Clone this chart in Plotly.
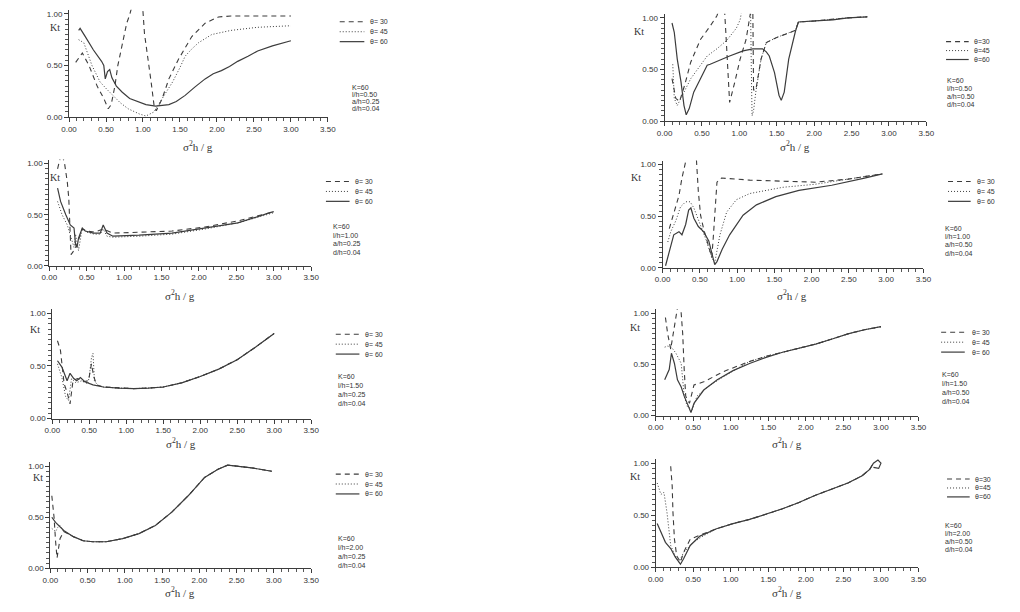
import plotly.graph_objects as go

W, H = 1020, 612

# ---------------- data ----------------
# Panel 1: l/h=0.50, a/h=0.25
p1_x30 = [0.09, 0.18, 0.27, 0.38, 0.47, 0.53, 0.57, 0.62, 0.66, 0.72, 0.78, 0.82, 0.86, 0.98, 1.00, 1.02, 1.06, 1.11, 1.15, 1.18, 1.26, 1.35, 1.48, 1.66, 1.84, 2.02, 2.19, 2.60, 3.00]
p1_y30 = [0.53, 0.62, 0.50, 0.30, 0.18, 0.08, 0.12, 0.30, 0.50, 0.72, 0.91, 0.99, 1.10, 1.10, 1.02, 0.81, 0.62, 0.34, 0.11, 0.06, 0.18, 0.37, 0.56, 0.78, 0.91, 0.97, 0.98, 0.98, 0.98]
p1_x45 = [0.13, 0.20, 0.31, 0.42, 0.51, 0.60, 0.69, 0.80, 0.95, 1.04, 1.15, 1.26, 1.40, 1.50, 1.57, 1.66, 1.75, 1.93, 2.19, 2.55, 3.00]
p1_y45 = [0.75, 0.72, 0.50, 0.34, 0.27, 0.20, 0.14, 0.08, 0.03, 0.01, 0.05, 0.18, 0.34, 0.48, 0.59, 0.66, 0.72, 0.80, 0.84, 0.87, 0.885]
p1_x60 = [0.13, 0.15, 0.22, 0.33, 0.44, 0.47, 0.49, 0.52, 0.55, 0.58, 0.64, 0.72, 0.82, 0.93, 1.04, 1.17, 1.25, 1.35, 1.45, 1.57, 1.70, 1.84, 1.95, 2.06, 2.17, 2.28, 2.42, 2.55, 2.75, 2.95, 3.00]
p1_y60 = [0.84, 0.86, 0.78, 0.65, 0.54, 0.50, 0.37, 0.44, 0.46, 0.38, 0.30, 0.24, 0.18, 0.15, 0.12, 0.105, 0.11, 0.12, 0.15, 0.21, 0.29, 0.37, 0.42, 0.45, 0.49, 0.54, 0.59, 0.64, 0.69, 0.73, 0.74]

# Panel 2: l/h=0.50, a/h=0.50
p2_x30 = [0.10, 0.15, 0.20, 0.27, 0.35, 0.48, 0.61, 0.70, 0.74, 0.80, 0.82, 0.85, 0.87, 0.94, 1.01, 1.09, 1.14, 1.16, 1.18, 1.19, 1.22, 1.29, 1.36, 1.50, 1.65, 1.75, 1.79, 2.01, 2.45, 2.71]
p2_y30 = [0.41, 0.22, 0.19, 0.35, 0.57, 0.79, 0.92, 1.02, 1.10, 1.10, 0.85, 0.40, 0.18, 0.38, 0.60, 0.79, 0.98, 1.10, 1.10, 0.30, 0.30, 0.60, 0.76, 0.81, 0.85, 0.88, 0.96, 0.97, 1.00, 1.01]
p2_x45 = [0.11, 0.13, 0.17, 0.26, 0.35, 0.44, 0.57, 0.70, 0.83, 0.96, 1.01, 1.04, 1.15, 1.16, 1.17, 1.19, 1.22, 1.29, 1.36, 1.50, 1.65, 1.75, 1.79, 2.01, 2.45, 2.71]
p2_y45 = [0.55, 0.22, 0.15, 0.28, 0.41, 0.50, 0.63, 0.70, 0.78, 0.90, 0.98, 1.10, 1.10, 0.50, 0.05, 0.10, 0.28, 0.60, 0.76, 0.81, 0.85, 0.88, 0.96, 0.97, 1.00, 1.01]
p2_x60 = [0.10, 0.13, 0.17, 0.22, 0.26, 0.29, 0.33, 0.39, 0.48, 0.57, 0.61, 0.70, 0.87, 1.05, 1.18, 1.31, 1.36, 1.40, 1.47, 1.53, 1.56, 1.60, 1.66, 1.75, 1.79, 2.01, 2.25, 2.45, 2.71]
p2_y60 = [0.95, 0.86, 0.60, 0.38, 0.15, 0.06, 0.12, 0.28, 0.41, 0.54, 0.55, 0.58, 0.63, 0.68, 0.70, 0.70, 0.67, 0.63, 0.47, 0.25, 0.20, 0.28, 0.60, 0.87, 0.96, 0.97, 0.98, 1.00, 1.01]

# Panel 3: l/h=1.00, a/h=0.25
p3_x30 = [0.11, 0.13, 0.16, 0.20, 0.24, 0.26, 0.28, 0.29, 0.33, 0.37, 0.44, 0.50, 0.60, 0.72, 0.85, 1.20, 1.64, 2.08, 2.52, 2.95, 3.00]
p3_y30 = [0.95, 1.02, 1.10, 1.02, 0.82, 0.66, 0.31, 0.11, 0.15, 0.21, 0.36, 0.34, 0.33, 0.36, 0.32, 0.33, 0.34, 0.38, 0.44, 0.52, 0.53]
p3_x45 = [0.11, 0.17, 0.24, 0.31, 0.33, 0.35, 0.39, 0.44, 0.50, 0.60, 0.68, 0.72, 0.77, 0.85, 1.20, 1.64, 2.08, 2.52, 2.95, 3.00]
p3_y45 = [0.63, 0.50, 0.40, 0.24, 0.18, 0.31, 0.15, 0.37, 0.33, 0.31, 0.31, 0.36, 0.29, 0.28, 0.29, 0.31, 0.36, 0.42, 0.51, 0.52]
p3_x60 = [0.11, 0.15, 0.22, 0.28, 0.33, 0.35, 0.37, 0.39, 0.44, 0.48, 0.59, 0.68, 0.72, 0.77, 0.85, 1.20, 1.64, 2.08, 2.52, 2.95, 3.00]
p3_y60 = [0.76, 0.63, 0.50, 0.40, 0.37, 0.21, 0.18, 0.27, 0.37, 0.34, 0.32, 0.32, 0.40, 0.32, 0.29, 0.30, 0.32, 0.37, 0.42, 0.52, 0.53]

# Panel 4: l/h=1.00, a/h=0.50
p4_x30 = [0.09, 0.15, 0.22, 0.26, 0.31, 0.35, 0.45, 0.48, 0.51, 0.55, 0.62, 0.66, 0.68, 0.73, 0.79, 1.17, 1.60, 2.05, 2.49, 2.95]
p4_y30 = [0.38, 0.54, 0.70, 0.87, 1.03, 1.10, 1.10, 0.74, 0.51, 0.38, 0.19, 0.10, 0.29, 0.83, 0.87, 0.85, 0.84, 0.83, 0.86, 0.91]
p4_x45 = [0.07, 0.11, 0.18, 0.24, 0.31, 0.37, 0.42, 0.51, 0.59, 0.66, 0.70, 0.77, 0.86, 0.99, 1.17, 1.61, 2.05, 2.49, 2.95]
p4_y45 = [0.25, 0.35, 0.46, 0.59, 0.64, 0.64, 0.58, 0.42, 0.26, 0.10, 0.05, 0.32, 0.54, 0.66, 0.72, 0.78, 0.81, 0.86, 0.91]
p4_x60 = [0.04, 0.11, 0.15, 0.22, 0.26, 0.31, 0.35, 0.38, 0.42, 0.48, 0.55, 0.62, 0.66, 0.70, 0.73, 0.80, 0.90, 1.08, 1.26, 1.52, 1.83, 2.27, 2.71, 2.95]
p4_y60 = [0.02, 0.22, 0.32, 0.35, 0.32, 0.42, 0.56, 0.58, 0.48, 0.40, 0.35, 0.26, 0.13, 0.03, 0.06, 0.18, 0.32, 0.51, 0.61, 0.69, 0.75, 0.80, 0.87, 0.91]

# Panel 5: l/h=1.50, a/h=0.25
p5_x30 = [0.07, 0.11, 0.16, 0.20, 0.24, 0.28, 0.34, 0.42, 0.49, 0.53, 0.56, 0.60, 0.69, 0.90, 1.10, 1.30, 1.50, 1.75, 2.00, 2.25, 2.50, 2.75, 3.00]
p5_y30 = [0.74, 0.65, 0.33, 0.25, 0.14, 0.36, 0.38, 0.35, 0.36, 0.52, 0.40, 0.32, 0.30, 0.29, 0.285, 0.29, 0.30, 0.34, 0.40, 0.47, 0.56, 0.68, 0.81]
p5_x45 = [0.07, 0.13, 0.18, 0.22, 0.26, 0.32, 0.40, 0.48, 0.50, 0.53, 0.55, 0.57, 0.62, 0.69, 0.90, 1.10, 1.30, 1.50, 1.75, 2.00, 2.25, 2.50, 2.75, 3.00]
p5_y45 = [0.52, 0.39, 0.21, 0.17, 0.38, 0.34, 0.36, 0.33, 0.40, 0.58, 0.62, 0.36, 0.31, 0.30, 0.29, 0.285, 0.29, 0.30, 0.34, 0.40, 0.47, 0.56, 0.68, 0.81]
p5_x60 = [0.07, 0.13, 0.20, 0.24, 0.29, 0.33, 0.38, 0.44, 0.55, 0.69, 0.90, 1.10, 1.30, 1.50, 1.75, 2.00, 2.25, 2.50, 2.75, 3.00]
p5_y60 = [0.55, 0.49, 0.36, 0.43, 0.38, 0.36, 0.39, 0.35, 0.32, 0.30, 0.29, 0.285, 0.29, 0.30, 0.34, 0.40, 0.47, 0.56, 0.68, 0.81]

# Panel 6: l/h=1.50, a/h=0.50
p6_x30 = [0.13, 0.16, 0.20, 0.25, 0.30, 0.33, 0.36, 0.38, 0.40, 0.45, 0.51, 0.64, 0.90, 1.25, 1.47, 1.69, 1.91, 2.13, 2.35, 2.56, 2.78, 3.00]
p6_y30 = [0.96, 0.80, 0.65, 0.85, 1.10, 1.10, 0.80, 0.45, 0.19, 0.12, 0.30, 0.33, 0.43, 0.53, 0.58, 0.62, 0.66, 0.70, 0.75, 0.80, 0.84, 0.87]
p6_x45 = [0.12, 0.16, 0.21, 0.27, 0.34, 0.36, 0.38, 0.42, 0.49, 0.55, 0.69, 0.90, 1.25, 1.47, 1.69, 1.91, 2.13, 2.35, 2.56, 2.78, 3.00]
p6_y45 = [0.67, 0.68, 0.67, 0.61, 0.51, 0.32, 0.19, 0.09, 0.06, 0.19, 0.28, 0.38, 0.53, 0.58, 0.62, 0.66, 0.70, 0.75, 0.80, 0.84, 0.87]
p6_x60 = [0.12, 0.18, 0.21, 0.25, 0.29, 0.34, 0.38, 0.42, 0.47, 0.51, 0.64, 0.82, 1.03, 1.25, 1.47, 1.69, 1.91, 2.13, 2.35, 2.56, 2.78, 3.00]
p6_y60 = [0.35, 0.45, 0.61, 0.51, 0.35, 0.28, 0.19, 0.12, 0.03, 0.12, 0.25, 0.35, 0.44, 0.51, 0.57, 0.62, 0.66, 0.70, 0.75, 0.80, 0.84, 0.87]

# Panel 7: l/h=2.00, a/h=0.25
p7_x30 = [0.02, 0.05, 0.07, 0.09, 0.13, 0.18, 0.31, 0.44, 0.57, 0.75, 0.97, 1.19, 1.41, 1.63, 1.85, 2.07, 2.25, 2.38, 2.51, 2.73, 2.97]
p7_y30 = [0.71, 0.50, 0.27, 0.10, 0.29, 0.36, 0.31, 0.27, 0.26, 0.26, 0.29, 0.34, 0.42, 0.55, 0.71, 0.89, 0.97, 1.01, 1.00, 0.98, 0.95]
p7_x45 = [0.02, 0.07, 0.10, 0.13, 0.18, 0.31, 0.44, 0.57, 0.75, 0.97, 1.19, 1.41, 1.63, 1.85, 2.07, 2.25, 2.38, 2.51, 2.73, 2.97]
p7_y45 = [0.39, 0.36, 0.40, 0.42, 0.36, 0.31, 0.27, 0.26, 0.26, 0.29, 0.34, 0.42, 0.55, 0.71, 0.89, 0.97, 1.01, 1.00, 0.98, 0.95]
p7_x60 = [0.02, 0.07, 0.18, 0.31, 0.44, 0.57, 0.75, 0.97, 1.19, 1.41, 1.63, 1.85, 2.07, 2.25, 2.38, 2.51, 2.73, 2.97]
p7_y60 = [0.50, 0.45, 0.37, 0.31, 0.27, 0.26, 0.26, 0.29, 0.34, 0.42, 0.55, 0.71, 0.89, 0.97, 1.01, 1.00, 0.98, 0.95]

# Panel 8: l/h=2.00, a/h=0.50
p8_x30 = [0.20, 0.22, 0.23, 0.25, 0.28, 0.33, 0.37, 0.46, 0.59, 0.81, 1.03, 1.25, 1.47, 1.68, 1.90, 2.12, 2.34, 2.56, 2.75, 2.85, 2.90]
p8_y30 = [0.97, 0.78, 0.53, 0.27, 0.11, 0.05, 0.14, 0.27, 0.31, 0.37, 0.42, 0.46, 0.51, 0.56, 0.62, 0.69, 0.75, 0.81, 0.88, 0.94, 1.00]
p8_x45 = [0.02, 0.07, 0.11, 0.15, 0.20, 0.26, 0.31, 0.37, 0.50, 0.63, 0.81, 1.03, 1.25, 1.47, 1.68, 1.90, 2.12, 2.34, 2.56, 2.75, 2.85, 2.90]
p8_y45 = [0.81, 0.70, 0.72, 0.53, 0.21, 0.11, 0.05, 0.14, 0.24, 0.30, 0.37, 0.42, 0.46, 0.51, 0.56, 0.62, 0.69, 0.75, 0.81, 0.88, 0.94, 1.00]
p8_x60 = [0.02, 0.07, 0.13, 0.20, 0.26, 0.33, 0.37, 0.46, 0.59, 0.81, 1.03, 1.25, 1.47, 1.68, 1.90, 2.12, 2.34, 2.56, 2.75, 2.85, 2.90, 2.96, 3.00, 2.97, 2.90]
p8_y60 = [0.42, 0.34, 0.24, 0.18, 0.10, 0.03, 0.08, 0.21, 0.30, 0.37, 0.42, 0.46, 0.51, 0.56, 0.62, 0.69, 0.75, 0.81, 0.88, 0.94, 1.00, 1.03, 1.00, 0.95, 0.96]

thetas = ["30", "45", "60"]
lh_vals = ["0.50", "0.50", "1.00", "1.00", "1.50", "1.50", "2.00", "2.00"]
ah_vals = ["0.25", "0.50", "0.25", "0.50", "0.25", "0.50", "0.25", "0.50"]

series = [
    [(p1_x30, p1_y30), (p1_x45, p1_y45), (p1_x60, p1_y60)],
    [(p2_x30, p2_y30), (p2_x45, p2_y45), (p2_x60, p2_y60)],
    [(p3_x30, p3_y30), (p3_x45, p3_y45), (p3_x60, p3_y60)],
    [(p4_x30, p4_y30), (p4_x45, p4_y45), (p4_x60, p4_y60)],
    [(p5_x30, p5_y30), (p5_x45, p5_y45), (p5_x60, p5_y60)],
    [(p6_x30, p6_y30), (p6_x45, p6_y45), (p6_x60, p6_y60)],
    [(p7_x30, p7_y30), (p7_x45, p7_y45), (p7_x60, p7_y60)],
    [(p8_x30, p8_y30), (p8_x45, p8_y45), (p8_x60, p8_y60)],
]

# ---------------- layout positions (pixels) ----------------
geo = [
    dict(px=(62, 325), py=(118, 14), leg=(337, 362, 366, [22, 32, 42]), ann=(347, [88, 95, 102, 109]), kt=(48, 28), xt=(193, 147), sep="= "),
    dict(px=(667, 933), py=(122, 18), leg=(953, 976, 979, [42, 51, 60]), ann=(952, [81, 89, 97, 105]), kt=(641, 32), xt=(800, 147), sep="="),
    dict(px=(42, 308), py=(268, 165), leg=(323, 347, 351, [183, 193, 203]), ann=(328, [228, 237, 246, 255]), kt=(48, 179), xt=(175, 297), sep="= "),
    dict(px=(665, 930), py=(270, 166), leg=(955, 978, 982, [183, 193, 203]), ann=(950, [230, 238, 247, 256]), kt=(638, 179), xt=(797, 297), sep="= "),
    dict(px=(45, 308), py=(422, 316), leg=(333, 357, 361, [337, 347, 357]), ann=(333, [380, 389, 398, 407]), kt=(27, 332), xt=(176, 447), sep="= "),
    dict(px=(658, 925), py=(419, 316), leg=(948, 972, 977, [335, 345, 355]), ann=(947, [378, 387, 396, 405]), kt=(637, 330), xt=(791, 447), sep="= "),
    dict(px=(43, 308), py=(573, 470), leg=(333, 357, 361, [478, 488, 498]), ann=(333, [543, 552, 561, 570]), kt=(30, 481), xt=(175, 597), sep="= "),
    dict(px=(658, 925), py=(572, 467), leg=(954, 977, 980, [483, 492, 501]), ann=(950, [530, 538, 546, 554]), kt=(637, 480), xt=(791, 597), sep="="),
]

LINE = "#3c3c3c"
TXT = "#333333"
dashes = ["5px,4px", "1px,2px", "solid"]
widths = [1.1, 1.0, 1.2]
YTOP = 1.04
X_MINOR = [round(0.1 * k, 2) for k in range(36)]
Y_MINOR = [round(0.05 * k, 2) for k in range(21)]


def px2x(p):
    return p / W


def py2y(p):
    return 1 - p / H


fig = go.Figure()
shapes = []
annotations = []
note_font = dict(family="Liberation Sans", size=7, color=TXT)

for i, (g, ser) in enumerate(zip(geo, series)):
    n = i + 1
    xa = "x" if n == 1 else f"x{n}"
    ya = "y" if n == 1 else f"y{n}"
    for (xs, ys), dash, wd in zip(ser, dashes, widths):
        fig.add_trace(go.Scatter(x=xs, y=ys, mode="lines", xaxis=xa, yaxis=ya,
                                 line=dict(color=LINE, width=wd, dash=dash),
                                 showlegend=False, hoverinfo="skip"))
    y0p, y1p = g["py"]
    unit = y0p - y1p
    ydom = [py2y(y0p), py2y(y1p - (YTOP - 1.0) * unit)]
    xdom = [px2x(g["px"][0]), px2x(g["px"][1])]
    axis_common = dict(showline=True, linecolor=LINE, linewidth=1, showgrid=False, zeroline=False,
                       ticks="outside", ticklen=4, tickcolor=LINE, tickwidth=1,
                       tickfont=dict(family="Liberation Sans", size=8, color=TXT),
                       tickformat=".2f", tickmode="linear", tick0=0, dtick=0.5)
    fig.update_layout(**{
        ("xaxis" if n == 1 else f"xaxis{n}"): dict(domain=xdom, range=[0, 3.5], anchor=ya, **axis_common,
                                                   minor=dict(ticks="outside", ticklen=3, tickmode="array",
                                                              tickvals=X_MINOR, tickcolor="#555555", tickwidth=1)),
        ("yaxis" if n == 1 else f"yaxis{n}"): dict(domain=ydom, range=[0, YTOP], anchor=xa, **axis_common,
                                                   minor=dict(ticks="outside", ticklen=3, tickmode="array",
                                                              tickvals=Y_MINOR, tickcolor="#555555", tickwidth=1)),
    })
    # legend keys
    lx0, lx1, tx, rows = g["leg"]
    for th, dash, wd, ry in zip(thetas, dashes, widths, rows):
        shapes.append(dict(type="line", xref="paper", yref="paper",
                           x0=px2x(lx0), x1=px2x(lx1), y0=py2y(ry), y1=py2y(ry),
                           line=dict(color=LINE, width=wd, dash=dash)))
        annotations.append(dict(text=f"θ{g['sep']}{th}", x=px2x(tx), y=py2y(ry), xref="paper", yref="paper",
                                xanchor="left", yanchor="middle", showarrow=False, font=note_font))
    # parameter notes
    ax, arows = g["ann"]
    notes = ["K=60", f"l/h={lh_vals[i]}", f"a/h={ah_vals[i]}", "d/h=0.04"]
    for t, ry in zip(notes, arows):
        annotations.append(dict(text=t, x=px2x(ax), y=py2y(ry), xref="paper", yref="paper",
                                xanchor="left", yanchor="middle", showarrow=False, font=note_font))
    # Kt label
    kx, ky = g["kt"]
    annotations.append(dict(text="Kt", x=px2x(kx), y=py2y(ky), xref="paper", yref="paper",
                            xanchor="center", yanchor="middle", showarrow=False,
                            font=dict(family="Liberation Serif", size=10, color=TXT)))
    # x title
    xx, xy = g["xt"]
    annotations.append(dict(text="σ<sup>2</sup>h / g", x=px2x(xx), y=py2y(xy), xref="paper", yref="paper",
                            xanchor="center", yanchor="middle", showarrow=False,
                            font=dict(family="Liberation Serif", size=11, color=TXT)))

fig.update_layout(width=W, height=H, margin=dict(l=0, r=0, t=0, b=0),
                  paper_bgcolor="white", plot_bgcolor="white", showlegend=False,
                  shapes=shapes, annotations=annotations)

fig.write_html("out.html")
